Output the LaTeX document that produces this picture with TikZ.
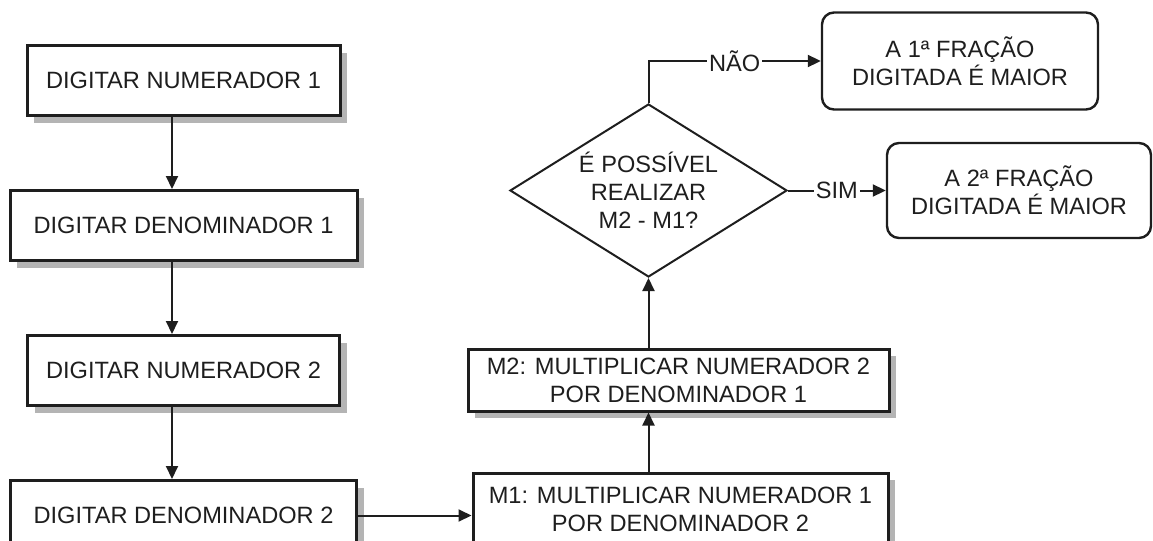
\documentclass[tikz,border=0pt]{standalone}
\usepackage{fontspec}
\setmainfont{Liberation Sans}
\usetikzlibrary{arrows.meta,positioning,shapes.geometric,shadows}
\definecolor{linegray}{RGB}{30,30,30}
\definecolor{shadowgray}{RGB}{180,180,180}
\newcommand{\boxfont}{\fontsize{11.8}{14}\selectfont}

\begin{document}
\begin{tikzpicture}[x=0.5pt, y=-0.5pt,
    node distance=36pt,
    box/.style={rectangle, draw=linegray, line width=1.5pt, fill=white, text=linegray,
                minimum height=35pt, align=center, font=\boxfont,
                drop shadow={shadow xshift=3.5pt, shadow yshift=-3.5pt, fill=shadowgray, opacity=1}},
    endbox/.style={rectangle, rounded corners=6pt, draw=linegray, line width=1.2pt, fill=white,
                   text=linegray, align=center, font=\boxfont},
    ask/.style={diamond, aspect=1.6, draw=linegray, line width=1pt, fill=white, text=linegray, inner sep=0pt,
                minimum width=138.5pt, minimum height=86.5pt, align=center, font=\boxfont},
    arr/.style={-{Triangle[length=6.5pt, width=6pt]}, linegray, line width=1pt},
    lbl/.style={fill=white, inner sep=1pt, text=linegray, font=\boxfont}]
\useasboundingbox (0,0) rectangle (1153,541);
% left column
\node[box, minimum width=156.5pt] (num1) at (183.5,80.5) {DIGITAR NUMERADOR 1};
\node[box, minimum width=173.5pt, below=of num1] (den1) {DIGITAR DENOMINADOR 1};
\node[box, minimum width=156pt, below=of den1] (num2) {DIGITAR NUMERADOR 2};
\node[box, minimum width=173pt, below=of num2] (den2) {DIGITAR DENOMINADOR 2};
\coordinate (col) at (172,0);
% products
\node[box, minimum width=207.5pt, minimum height=36pt] (m1) at (680.5,509) {M1: MULTIPLICAR NUMERADOR 1\\POR DENOMINADOR 2};
\node[box, minimum width=210.5pt, minimum height=31pt] (m2) at (678.5,380) {M2: MULTIPLICAR NUMERADOR 2\\POR DENOMINADOR 1};
% decision
\node[ask] (test) at (648.5,190.5) {É POSSÍVEL\\REALIZAR\\M2 - M1?};
\node[endbox, minimum width=138pt, minimum height=48.5pt] (first) at (960,61) {A 1ª FRAÇÃO\\DIGITADA É MAIOR};
\node[endbox, minimum width=132pt, minimum height=47.5pt] (second) at (1019,190.5) {A 2ª FRAÇÃO\\DIGITADA É MAIOR};
% connectors
\draw[arr] (num1.south -| col) -- (den1.north -| col);
\draw[arr] (den1.south -| col) -- (num2.north -| col);
\draw[arr] (num2.south -| col) -- (den2.north -| col);
\draw[arr] (den2.east) -- (den2.east -| m1.west);
\draw[arr] (m1.north -| test.south) -- (m2.south -| test.south);
\draw[arr] (m2.north -| test.south) -- (test.south);
\draw[arr] (test.north) |- node[lbl, pos=0.75] {NÃO} (first.west);
\draw[arr] (test.east) -- node[lbl] {SIM} (second.west);
\end{tikzpicture}
\end{document}
